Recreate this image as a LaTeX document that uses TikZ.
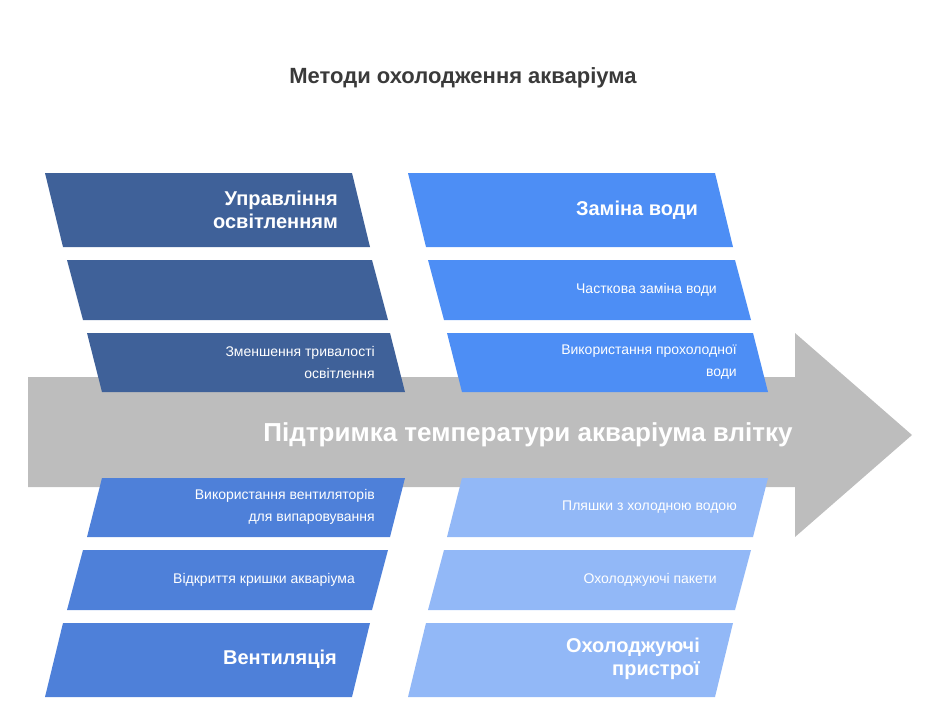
\documentclass[tikz,border=0pt]{standalone}
\usepackage{fontspec}
\setmainfont{Liberation Sans}
\usetikzlibrary{positioning}
\definecolor{darkband}{HTML}{3F6199}
\definecolor{waterband}{HTML}{4D8EF5}
\definecolor{airband}{HTML}{4E80D9}
\definecolor{coolband}{HTML}{92B8F7}
\definecolor{spine}{HTML}{BDBDBD}
\definecolor{titlegray}{HTML}{3A3A3A}
\tikzset{
  bigtxt/.style={text=white,font=\bfseries\fontsize{20}{23}\selectfont,align=right,anchor=east,inner sep=0pt},
  smalltxt/.style={text=white,font=\fontsize{14}{22}\selectfont,align=right,anchor=east,inner sep=0pt},
}
\begin{document}
\begin{tikzpicture}[x=1pt,y=-1pt,line join=round]
\useasboundingbox (0,0) rectangle (940,718);
\node[font=\bfseries\fontsize{22}{26}\selectfont,text=titlegray] (title) at (463,78) {Методи охолодження акваріума};
% spine
\fill[spine] (28,377) -- (795,377) -- (795,333) -- (912,435) -- (795,537) -- (795,487) -- (28,487) -- cycle;
\node[text=white,font=\bfseries\fontsize{26}{30}\selectfont] (spinetxt) at (528,435) {Підтримка температури акваріума влітку};
% upper left
\fill[darkband] (45,173) -- (352,173) -- (370,247) -- (63,247) -- cycle;
\fill[darkband] (67,260) -- (372,260) -- (388,320) -- (83,320) -- cycle;
\fill[darkband] (87,333) -- (390,333) -- (405,392) -- (102,392) -- cycle;
\node[bigtxt] (light) at (338,210) {Управління\\освітленням};
\node[smalltxt] (lightb) at (375,362) {Зменшення тривалості\\освітлення};
% upper right
\fill[waterband] (408,173) -- (715,173) -- (733,247) -- (426,247) -- cycle;
\fill[waterband] (428,260) -- (735,260) -- (751,320) -- (444,320) -- cycle;
\fill[waterband] (447,333) -- (753,333) -- (768,392) -- (462,392) -- cycle;
\node[bigtxt] (water) at (698,210) {Заміна води};
\node[smalltxt] (watera) at (717,290) {Часткова заміна води};
\node[smalltxt] (waterb) at (737,362) {Використання прохолодної\\води};
% lower left
\fill[airband] (102,478) -- (405,478) -- (390,537) -- (87,537) -- cycle;
\fill[airband] (83,550) -- (388,550) -- (372,610) -- (67,610) -- cycle;
\fill[airband] (63,623) -- (370,623) -- (352,697) -- (45,697) -- cycle;
\node[smalltxt] (aira) at (375,507) {Використання вентиляторів\\для випаровування};
\node[smalltxt] (airb) at (355,580) {Відкриття кришки акваріума};
\node[bigtxt] (air) at (337,659) {Вентиляція};
% lower right
\fill[coolband] (462,478) -- (768,478) -- (753,537) -- (447,537) -- cycle;
\fill[coolband] (444,550) -- (751,550) -- (735,610) -- (428,610) -- cycle;
\fill[coolband] (426,623) -- (733,623) -- (715,697) -- (408,697) -- cycle;
\node[smalltxt] (coola) at (737,507) {Пляшки з холодною водою};
\node[smalltxt] (coolb) at (717,580) {Охолоджуючі пакети};
\node[bigtxt] (cool) at (700,659) {Охолоджуючі\\пристрої};
\end{tikzpicture}
\end{document}
